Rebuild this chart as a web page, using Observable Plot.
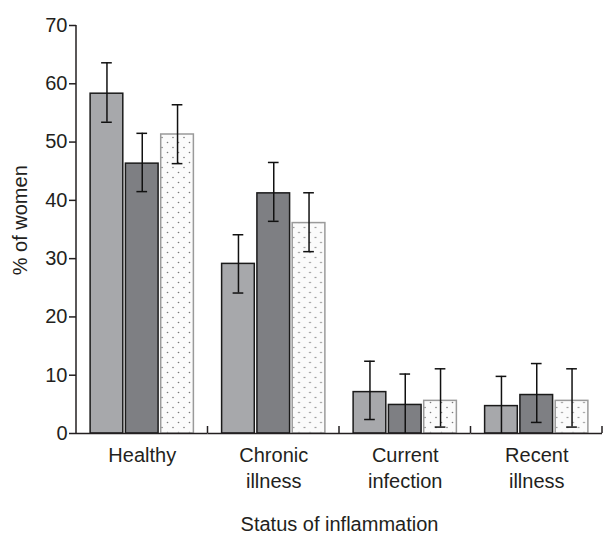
<!DOCTYPE html>
<html><head><meta charset="utf-8">
<script src="https://cdn.jsdelivr.net/npm/d3@7"></script>
<script src="https://cdn.jsdelivr.net/npm/@observablehq/plot@0.6"></script>
<style>
body{margin:0;background:#fff;}
#chart svg{font-family:"Liberation Sans",Arial,sans-serif;}
</style></head>
<body><div id="chart"></div>
<script>
const categories = ["Healthy", "Chronic illness", "Current infection", "Recent illness"];
const series = ["Group 1", "Group 2", "Group 3"];
const values1 = [58.3, 29.1, 7.1, 4.7];
const lower1  = [53.4, 24.1, 2.4, 0.0];
const upper1  = [63.6, 34.1, 12.4, 9.8];
const values2 = [46.3, 41.2, 4.9, 6.6];
const lower2  = [41.5, 36.4, 0.0, 1.9];
const upper2  = [51.5, 46.5, 10.2, 12.0];
const values3 = [51.3, 36.1, 5.6, 5.6];
const lower3  = [46.3, 31.2, 1.1, 1.1];
const upper3  = [56.4, 41.3, 11.1, 11.1];
const yTicks = [0, 10, 20, 30, 40, 50, 60, 70];

const vals = [values1, values2, values3], lows = [lower1, lower2, lower3], ups = [upper1, upper2, upper3];
const rows = [];
categories.forEach((c, i) => series.forEach((s, j) => rows.push({cat: c, s, v: vals[j][i], lo: lows[j][i], hi: ups[j][i]})));

const fills = ["#a7a8ab", "#7e7f83", "url(#dots)"];
const strokes = ["#1a1a1a", "#1a1a1a", "#9a9a9a"];

const W = 603, H = 533, ML = 76, MR = 1, MT = 25, MB = 100;

const plot = Plot.plot({
  width: W, height: H,
  marginLeft: ML, marginRight: MR, marginTop: MT, marginBottom: MB,
  style: {fontSize: "20px", color: "#231f20", fontFamily: "Liberation Sans, Arial, sans-serif"},
  fx: {domain: categories, padding: 0, round: false, label: "Status of inflammation"},
  x: {domain: series, paddingInner: 0.074, paddingOuter: 0.4, round: false, axis: null},
  y: {domain: [0, 70]},
  marks: [
    Plot.barY(rows, {fx: "cat", x: "s", y: "v",
      fill: d => fills[series.indexOf(d.s)],
      stroke: d => strokes[series.indexOf(d.s)], strokeWidth: 1.5}),
    Plot.ruleX(rows, {fx: "cat", x: "s", y1: "lo", y2: "hi", stroke: "#111", strokeWidth: 1.5}),
    Plot.tickY(rows, {fx: "cat", x: "s", y: "hi", stroke: "#111", strokeWidth: 1.5, insetLeft: 11, insetRight: 11}),
    Plot.tickY(rows, {fx: "cat", x: "s", y: "lo", stroke: "#111", strokeWidth: 1.5, insetLeft: 11, insetRight: 11, filter: d => d.lo > 0}),
    Plot.axisY({ticks: yTicks, tickSize: 7, tickPadding: 2, fontSize: 20, strokeWidth: 1.5}),
    Plot.axisFx({anchor: "bottom", tickSize: 0, tickPadding: 10, fontSize: 20, tickFormat: d => d.replace(" ", "\n"), lineHeight: 1.3, label: "Status of inflammation", labelAnchor: "center", labelArrow: "none", labelOffset: 97}),
    Plot.ruleY([0], {stroke: "#231f20", strokeWidth: 1.5})
  ]
});

const svg = d3.select(plot);
const ys = plot.scale("y"), fxs = plot.scale("fx");

// y-axis title, centred a little above the frame middle as in the reference
svg.append("text")
  .attr("transform", `translate(20,${ys.apply(36.5)}) rotate(-90)`)
  .attr("text-anchor", "middle").attr("dy", "0.35em")
  .attr("fill", "#231f20").attr("font-size", 20)
  .text("% of women");

// axis chrome drawn through the plot's own scales: y-axis line and group separator ticks
const g = svg.append("g").attr("stroke", "#231f20").attr("stroke-width", 1.5);
const y0 = ys.apply(0), yTop = ys.apply(yTicks[yTicks.length - 1]);
g.append("line").attr("x1", ML).attr("x2", ML).attr("y1", yTop).attr("y2", y0);
categories.forEach(c => {
  const x = fxs.apply(c) + fxs.bandwidth;
  g.append("line").attr("x1", x).attr("x2", x).attr("y1", y0).attr("y2", y0 - 7);
});

// dotted pattern for the third series
const defs = svg.insert("defs", ":first-child");
const pat = defs.append("pattern").attr("id", "dots").attr("patternUnits", "userSpaceOnUse").attr("width", 11).attr("height", 10);
pat.append("rect").attr("width", 11).attr("height", 10).attr("fill", "#fbfbfb");
pat.append("circle").attr("cx", 2.5).attr("cy", 2.5).attr("r", 0.8).attr("fill", "#7a7a7a");
pat.append("circle").attr("cx", 8).attr("cy", 7.5).attr("r", 0.8).attr("fill", "#7a7a7a");
document.getElementById("chart").appendChild(plot);
</script>
</body></html>
